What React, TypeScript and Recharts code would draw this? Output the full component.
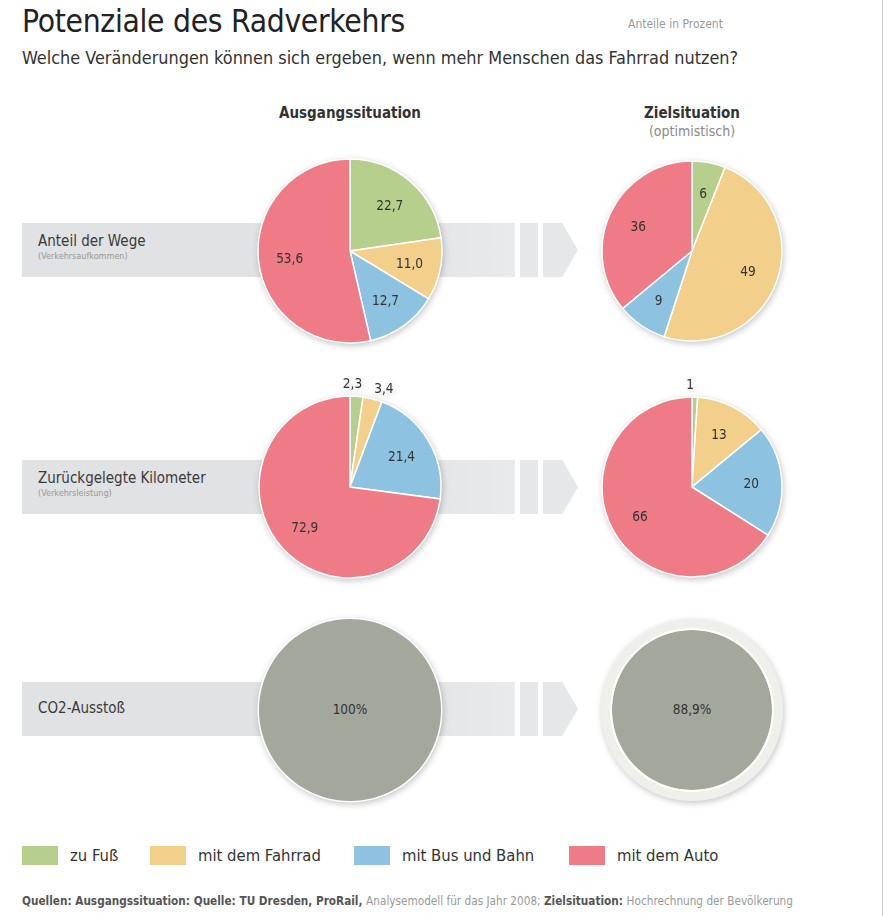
import React from "react";
import { PieChart, Pie, Cell } from "recharts";

const categories = ["zu Fuß", "mit dem Fahrrad", "mit Bus und Bahn", "mit dem Auto"];
const colors = ["#b7cf8d", "#f2cf8b", "#8dc3e1", "#ee7b86"];

const wegeAusgang = [22.7, 11.0, 12.7, 53.6];
const wegeZiel = [6, 49, 9, 36];
const kmAusgang = [2.3, 3.4, 21.4, 72.9];
const kmZiel = [1, 13, 20, 66];
const co2Ausgang = 100;
const co2Ziel = 88.9;

const rowLabels = ["Anteil der Wege", "Zurückgelegte Kilometer", "CO2-Ausstoß"];
const rowSubLabels = ["(Verkehrsaufkommen)", "(Verkehrsleistung)", ""];

const FONT = "'DejaVu Sans Condensed', 'DejaVu Sans', sans-serif";
const GREY = "#a4a79c";

const toRows = (values: number[]) =>
  values.map((v, i) => ({ name: categories[i], value: v }));

const fmtDec = (v: number) => v.toFixed(1).replace(".", ",");
const fmtInt = (v: number) => String(v);

function makeLabel(fmt: (v: number) => string) {
  return (props: any) => {
    const { cx, cy, midAngle, outerRadius, percent, value } = props;
    const rad = Math.PI / 180;
    const small = percent < 0.05;
    const r = small ? outerRadius + 13 : outerRadius * 0.66;
    // tiny slices at the top: nudge the first one left so neighbours don't collide
    const dx = small ? (midAngle > 85 ? -5 : 8) : 0;
    const x = cx + r * Math.cos(-midAngle * rad) + dx;
    const y = cy + r * Math.sin(-midAngle * rad) + (small && midAngle <= 85 ? 2 : 0);
    return (
      <text
        x={x}
        y={y}
        textAnchor="middle"
        dominantBaseline="central"
        fontSize={13.5}
        fontFamily={FONT}
        fill="#333"
      >
        {fmt(value)}
      </text>
    );
  };
}

function Band({ top }: { top: number }) {
  const h = 54;
  return (
    <div style={{ position: "absolute", left: 0, top, height: h, width: 600 }}>
      <div
        style={{
          position: "absolute",
          left: 22,
          top: 0,
          width: 493,
          height: h,
          background: "linear-gradient(to right, #e1e2e4 0%, #e1e2e4 70%, #e9eaec 100%)",
        }}
      />
      <div style={{ position: "absolute", left: 520, top: 0, width: 18, height: h, background: "#e6e7e9" }} />
      <div
        style={{
          position: "absolute",
          left: 543,
          top: 0,
          width: 35,
          height: h,
          background: "#e6e7e9",
          clipPath: "polygon(0 0, 55% 0, 100% 50%, 55% 100%, 0 100%)",
        }}
      />
    </div>
  );
}

const rows = [
  { cy: 251, band: 223 },
  { cy: 487, band: 460 },
  { cy: 710, band: 682 },
];

export default function App() {
  const pieProps = {
    dataKey: "value",
    startAngle: 90,
    endAngle: -270,
    stroke: "#ffffff",
    strokeWidth: 1.5,
    labelLine: false,
    isAnimationActive: false,
  };

  return (
    <div
      style={{
        position: "absolute",
        left: 0,
        top: 0,
        width: 889,
        height: 916,
        background: "#fff",
        fontFamily: FONT,
        color: "#333",
        overflow: "hidden",
      }}
    >
      <div style={{ position: "absolute", left: 882, top: 0, width: 1, height: 916, background: "#c9c9c9" }} />

      <div style={{ position: "absolute", left: 22, top: 3, fontSize: 31.5, color: "#222", letterSpacing: -0.3 }}>
        Potenziale des Radverkehrs
      </div>
      <div style={{ position: "absolute", left: 628, top: 17, fontSize: 12, color: "#9a9a9a" }}>
        Anteile in Prozent
      </div>
      <div style={{ position: "absolute", left: 22, top: 47, fontSize: 17.9, color: "#333" }}>
        Welche Veränderungen können sich ergeben, wenn mehr Menschen das Fahrrad nutzen?
      </div>

      <div style={{ position: "absolute", left: 250, width: 200, top: 104, textAlign: "center", fontSize: 15, fontWeight: "bold" }}>
        Ausgangssituation
      </div>
      <div style={{ position: "absolute", left: 592, width: 200, top: 104, textAlign: "center", fontSize: 15, fontWeight: "bold" }}>
        Zielsituation
      </div>
      <div style={{ position: "absolute", left: 592, width: 200, top: 123, textAlign: "center", fontSize: 14, color: "#8a8a8a" }}>
        (optimistisch)
      </div>

      {rows.map((r, i) => (
        <Band key={i} top={r.band} />
      ))}

      <div style={{ position: "absolute", left: 0, top: 0, filter: "drop-shadow(1px 2px 3px rgba(0,0,0,0.22))" }}>
        <PieChart width={889} height={916} margin={{ top: 0, right: 0, bottom: 0, left: 0 }}>
          <Pie {...pieProps} data={toRows(wegeAusgang)} cx={350} cy={rows[0].cy} outerRadius={92} label={makeLabel(fmtDec)}>
            {categories.map((c, i) => (
              <Cell key={c} fill={colors[i]} />
            ))}
          </Pie>
          <Pie {...pieProps} data={toRows(wegeZiel)} cx={692} cy={rows[0].cy} outerRadius={90} label={makeLabel(fmtInt)}>
            {categories.map((c, i) => (
              <Cell key={c} fill={colors[i]} />
            ))}
          </Pie>
          <Pie {...pieProps} data={toRows(kmAusgang)} cx={350} cy={rows[1].cy} outerRadius={91} label={makeLabel(fmtDec)}>
            {categories.map((c, i) => (
              <Cell key={c} fill={colors[i]} />
            ))}
          </Pie>
          <Pie {...pieProps} data={toRows(kmZiel)} cx={692} cy={rows[1].cy} outerRadius={90} label={makeLabel(fmtInt)}>
            {categories.map((c, i) => (
              <Cell key={c} fill={colors[i]} />
            ))}
          </Pie>
          <Pie {...pieProps} data={[{ name: "CO2", value: co2Ausgang }]} cx={350} cy={rows[2].cy} outerRadius={92} fill={GREY} stroke="none" />
          <Pie {...pieProps} data={[{ name: "Rand", value: 1 }]} cx={350} cy={rows[2].cy} innerRadius={91} outerRadius={92.5} fill="#ffffff" stroke="none" />
          <Pie
            {...pieProps}
            data={[{ name: "Rand", value: 1 }]}
            cx={692}
            cy={rows[2].cy}
            outerRadius={91}
            fill="#efefec"
            stroke="none"
          />
          <Pie {...pieProps} data={[{ name: "CO2", value: co2Ziel }]} cx={692} cy={rows[2].cy} outerRadius={80} fill={GREY} stroke="none" />
          <Pie {...pieProps} data={[{ name: "Rand", value: 1 }]} cx={692} cy={rows[2].cy} innerRadius={80} outerRadius={82} fill="#ffffff" stroke="none" />
        </PieChart>
      </div>

      <div style={{ position: "absolute", left: 310, width: 80, top: rows[2].cy - 9, textAlign: "center", fontSize: 13.5, color: "#333" }}>
        {co2Ausgang}%
      </div>
      <div style={{ position: "absolute", left: 652, width: 80, top: rows[2].cy - 9, textAlign: "center", fontSize: 13.5, color: "#333" }}>
        {fmtDec(co2Ziel)}%
      </div>

      {rows.map((r, i) => (
        <div key={i} style={{ position: "absolute", left: 38, top: r.band + (rowSubLabels[i] ? 9 : 17) }}>
          <div style={{ fontSize: 15, color: "#3a3a3a" }}>{rowLabels[i]}</div>
          {rowSubLabels[i] && <div style={{ fontSize: 9, color: "#999", marginTop: 1 }}>{rowSubLabels[i]}</div>}
        </div>
      ))}

      {categories.map((c, i) => {
        const lefts = [22, 150, 354, 569];
        return (
          <div key={c} style={{ position: "absolute", left: lefts[i], top: 846, display: "flex", alignItems: "center" }}>
            <div style={{ width: 36, height: 19, background: colors[i], marginRight: 12 }} />
            <div style={{ fontSize: 16.5, color: "#333" }}>{c}</div>
          </div>
        );
      })}

      <div style={{ position: "absolute", left: 22, top: 894, fontSize: 11.7, color: "#555", whiteSpace: "nowrap" }}>
        <b>Quellen: Ausgangssituation: Quelle: TU Dresden, ProRail, </b>
        <span style={{ color: "#999" }}>Analysemodell für das Jahr 2008; </span>
        <b>Zielsituation: </b>
        <span style={{ color: "#999" }}>Hochrechnung der Bevölkerung</span>
      </div>
    </div>
  );
}
